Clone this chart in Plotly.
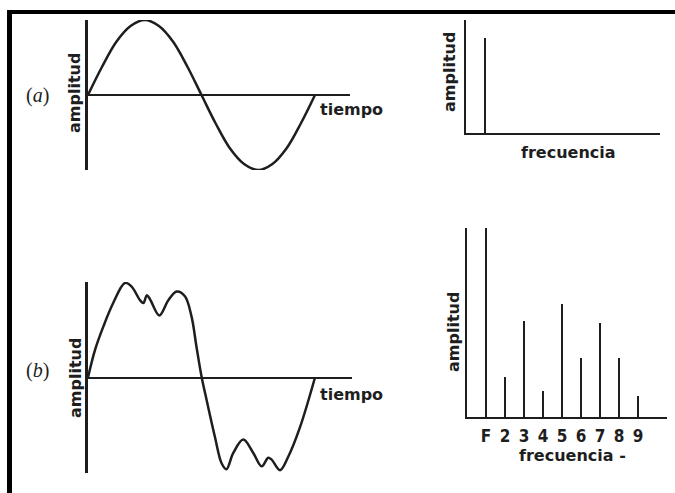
import plotly.graph_objects as go

W, H = 675, 493

# ---------------- data ----------------
# (a) pure tone, one period (time in periods, amplitude normalised)
time_a = [0, 0.0625, 0.125, 0.1875, 0.25, 0.3125, 0.375, 0.4375, 0.5,
          0.5625, 0.625, 0.6875, 0.75, 0.8125, 0.875, 0.9375, 1.0]
amp_a = [0, 0.38, 0.71, 0.92, 1.0, 0.92, 0.71, 0.38, 0,
         -0.38, -0.71, -0.92, -1.0, -0.92, -0.71, -0.38, 0]

# (b) complex tone, one period
time_b = [0, 0.031, 0.067, 0.111, 0.163, 0.193, 0.229, 0.244, 0.259, 0.273,
          0.314, 0.354, 0.391, 0.427, 0.456, 0.478, 0.501, 0.523, 0.559, 0.589,
          0.610, 0.640, 0.684, 0.728, 0.765, 0.794, 0.809, 0.846, 0.882, 0.934, 1.0]
amp_b = [0, 0.29, 0.53, 0.78, 0.99, 0.95, 0.81, 0.78, 0.86, 0.82,
         0.65, 0.81, 0.90, 0.85, 0.64, 0.32, 0.0, -0.24, -0.62, -0.90,
         -0.96, -0.79, -0.65, -0.79, -0.93, -0.84, -0.86, -0.97, -0.83, -0.52, 0]

# spectra
freq_a = [1]
spec_a = [1.0]
freq_b = [1, 2, 3, 4, 5, 6, 7, 8, 9]
spec_b = [1.0, 0.21, 0.51, 0.14, 0.60, 0.31, 0.50, 0.31, 0.11]
tick_b = ["F", "2", "3", "4", "5", "6", "7", "8", "9"]

INK = "#1e1e1e"
FONT = "DejaVu Sans"


def px(x):
    return x / W


def py(y):
    return 1 - y / H


fig = go.Figure()

fig.add_trace(go.Scatter(x=time_a, y=amp_a, mode="lines", xaxis="x", yaxis="y",
                         line=dict(color=INK, width=2.5, shape="spline", smoothing=1.0)))
fig.add_trace(go.Bar(x=freq_a, y=spec_a, xaxis="x2", yaxis="y2", width=0.11,
                     marker=dict(color=INK, line=dict(width=0))))
fig.add_trace(go.Scatter(x=time_b, y=amp_b, mode="lines", xaxis="x3", yaxis="y3",
                         line=dict(color=INK, width=2.5, shape="spline", smoothing=1.0)))
fig.add_trace(go.Bar(x=freq_b, y=spec_b, xaxis="x4", yaxis="y4", width=0.11,
                     marker=dict(color=INK, line=dict(width=0))))

hidden = dict(showgrid=False, showticklabels=False, ticks="", zeroline=False,
              showline=False, fixedrange=True)

# time axes
fig.update_layout(
    xaxis=dict(hidden, domain=[px(88), px(350)], range=[0, 262 / 227], anchor="y"),
    yaxis=dict(hidden, domain=[py(170), py(20)], range=[-1, 1], anchor="x",
               showline=True, linecolor=INK, linewidth=2.5,
               zeroline=True, zerolinecolor=INK, zerolinewidth=2),
    xaxis3=dict(hidden, domain=[px(88), px(352)], range=[0, 264 / 227], anchor="y3"),
    yaxis3=dict(hidden, domain=[py(473), py(282)], range=[-1, 1], anchor="x3",
                showline=True, linecolor=INK, linewidth=2.5,
                zeroline=True, zerolinecolor=INK, zerolinewidth=2),
)

# spectrum axes
fig.update_layout(
    xaxis2=dict(hidden, domain=[px(466), px(660)], range=[0, 194 / 19], anchor="y2",
                showline=True, linecolor=INK, linewidth=2),
    yaxis2=dict(hidden, domain=[py(133), py(20)], range=[0, 113 / 95], anchor="x2",
                showline=True, linecolor=INK, linewidth=2),
    xaxis4=dict(hidden, domain=[px(467), px(667)], range=[0, 200 / 19], anchor="y4",
                showline=True, linecolor=INK, linewidth=2,
                showticklabels=True, tickmode="array", tickvals=freq_b, ticktext=tick_b,
                ticklabelstandoff=3,
                tickfont=dict(family="Liberation Sans Narrow, DejaVu Sans Condensed, DejaVu Sans",
                              size=17, color=INK, weight="bold")),
    yaxis4=dict(hidden, domain=[py(417), py(228)], range=[0, 1.0], anchor="x4",
                showline=True, linecolor=INK, linewidth=2),
)

ann = []


def label(text, x, y, size=16, angle=0, family=FONT, weight="bold"):
    ann.append(dict(text=text, x=px(x), y=py(y), xref="paper", yref="paper",
                    showarrow=False, textangle=angle, xanchor="center", yanchor="middle",
                    font=dict(family=family, size=size, color=INK, weight=weight)))


label("(<i>a</i>)", 37, 95, size=20, family="Liberation Serif", weight="normal")
label("amplitud", 74, 93, size=16, angle=-90)
label("tiempo", 352, 109, size=16)
label("amplitud", 449, 72, size=16, angle=-90)
label("frecuencia", 568, 152, size=16)

label("(<i>b</i>)", 37, 370, size=20, family="Liberation Serif", weight="normal")
label("amplitud", 75, 378, size=16, angle=-90)
label("tiempo", 352, 394, size=16)
label("amplitud", 453, 332, size=16, angle=-90)
label("frecuencia -", 572, 455, size=16)

shapes = [
    dict(type="line", xref="paper", yref="paper", x0=px(7), x1=px(675), y0=py(12), y1=py(12),
         line=dict(color="black", width=4)),
    dict(type="line", xref="paper", yref="paper", x0=px(9.5), x1=px(9.5), y0=py(10), y1=py(493),
         line=dict(color="black", width=5)),
]

fig.update_layout(
    width=W, height=H, margin=dict(l=0, r=0, t=0, b=0),
    paper_bgcolor="white", plot_bgcolor="rgba(0,0,0,0)",
    showlegend=False, annotations=ann, shapes=shapes, bargap=0,
)

fig.write_html("out.html", config={"displayModeBar": False})
